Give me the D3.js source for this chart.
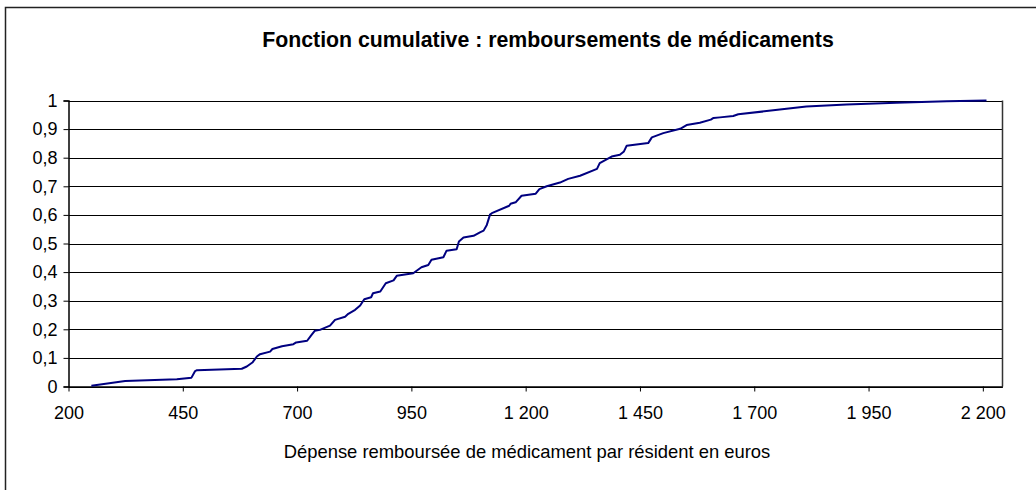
<!DOCTYPE html>
<html>
<head>
<meta charset="utf-8">
<script src="https://cdn.jsdelivr.net/npm/d3@7"></script>
<style>
  html, body { margin: 0; padding: 0; background: #fff; }
  svg { display: block; }
  text { font-family: "Liberation Sans", Arial, sans-serif; fill: #000; }
</style>
</head>
<body>
<svg id="chart" width="1036" height="490"></svg>
<script>
// ---- data ----
const expense = [250, 324, 437, 469, 477, 481, 579, 590, 603, 612, 619, 641, 646, 667, 692, 698, 722, 730, 739, 750,
  772, 783, 805, 812, 827, 838, 847, 862, 866, 882, 894, 911, 918, 954, 972, 987, 994, 1020, 1027, 1049,
  1054, 1064, 1086, 1100, 1108, 1115, 1122, 1126, 1164, 1167, 1178, 1191, 1222, 1230, 1246, 1275, 1293, 1319,
  1356, 1362, 1388, 1406, 1415, 1421, 1468, 1476, 1501, 1538, 1552, 1581, 1605, 1611, 1625, 1654, 1665, 1727,
  1814, 1902, 2011, 2121, 2208];
const cumulative = [0.003, 0.019, 0.025, 0.031, 0.054, 0.057, 0.062, 0.070, 0.085, 0.105, 0.113, 0.122, 0.131, 0.141, 0.148, 0.154, 0.160, 0.177, 0.195, 0.198,
  0.213, 0.233, 0.244, 0.254, 0.268, 0.283, 0.305, 0.312, 0.326, 0.332, 0.361, 0.371, 0.387, 0.396, 0.417, 0.425, 0.443, 0.452, 0.475, 0.480,
  0.507, 0.521, 0.527, 0.539, 0.545, 0.565, 0.601, 0.606, 0.632, 0.639, 0.644, 0.667, 0.674, 0.690, 0.700, 0.713, 0.726, 0.737,
  0.761, 0.781, 0.804, 0.810, 0.822, 0.842, 0.851, 0.871, 0.886, 0.901, 0.914, 0.922, 0.933, 0.939, 0.941, 0.946, 0.952, 0.963,
  0.979, 0.986, 0.992, 0.997, 1.000];
const xTicks = [200, 450, 700, 950, 1200, 1450, 1700, 1950, 2200];
const yTicks = [0, 0.1, 0.2, 0.3, 0.4, 0.5, 0.6, 0.7, 0.8, 0.9, 1];
const xDomain = [200, 2243];
const yDomain = [0, 1];
const titleText = "Fonction cumulative : remboursements de médicaments";
const xTitleText = "Dépense remboursée de médicament par résident en euros";

// ---- layout ----
const svg = d3.select("#chart");
const plot = { left: 68.5, right: 1002.5, top: 100.5, bottom: 386.5 };

const x = d3.scaleLinear().domain(xDomain).range([plot.left, plot.right]);
const y = d3.scaleLinear().domain(yDomain).range([plot.bottom, plot.top]);

// outer chart border (extends past the picture on right/bottom)
svg.append("rect")
  .attr("x", 5.5).attr("y", 7.5).attr("width", 1060).attr("height", 500)
  .attr("fill", "none").attr("stroke", "#222").attr("stroke-width", 1.5);

// title
svg.append("text")
  .attr("x", 548).attr("y", 47)
  .attr("text-anchor", "middle")
  .style("font-size", "21.3px").style("font-weight", "bold")
  .text(titleText);

// gridlines
svg.append("g").selectAll("line")
  .data(yTicks)
  .join("line")
  .attr("x1", plot.left).attr("x2", plot.right)
  .attr("y1", d => Math.round(y(d)) + 0.5).attr("y2", d => Math.round(y(d)) + 0.5)
  .attr("stroke", "#000").attr("stroke-width", 1);

// plot area right border
svg.append("line")
  .attr("x1", plot.right).attr("x2", plot.right)
  .attr("y1", plot.top).attr("y2", plot.bottom)
  .attr("stroke", "#333").attr("stroke-width", 1.5);

// y axis
const yAxis = d3.axisLeft(y).tickValues(yTicks).tickSize(5).tickPadding(6)
  .tickFormat(d => d === 0 ? "0" : d === 1 ? "1" : d3.format(".1f")(d).replace(".", ","));
const gy = svg.append("g").attr("transform", `translate(${plot.left},0)`).call(yAxis);
gy.select(".domain").attr("stroke", "#000").attr("stroke-width", 1.5);
gy.selectAll(".tick line").attr("stroke", "#000");
gy.selectAll(".tick text").style("font-size", "18px").style("font-family", "'Liberation Sans', Arial, sans-serif");

// x axis
const fmtX = d => d3.format(",")(d).replace(/,/g, " ");
const xAxis = d3.axisBottom(x).tickValues(xTicks).tickSize(5).tickPadding(15).tickFormat(fmtX).tickSizeOuter(0);
const gx = svg.append("g").attr("transform", `translate(0,${plot.bottom})`).call(xAxis);
gx.select(".domain").attr("stroke", "#000").attr("stroke-width", 1.5);
gx.selectAll(".tick line").attr("stroke", "#000");
gx.selectAll(".tick text").style("font-size", "18px").style("font-family", "'Liberation Sans', Arial, sans-serif");

// x axis title
svg.append("text")
  .attr("x", 527).attr("y", 458)
  .attr("text-anchor", "middle")
  .style("font-size", "18.4px")
  .text(xTitleText);

// the cumulative curve
const pts = expense.map((v, i) => [v, cumulative[i]]);
svg.append("path")
  .datum(pts)
  .attr("fill", "none")
  .attr("stroke", "#000080")
  .attr("stroke-width", 2)
  .attr("stroke-linejoin", "round")
  .attr("d", d3.line().x(d => x(d[0])).y(d => y(d[1])));
</script>
</body>
</html>
